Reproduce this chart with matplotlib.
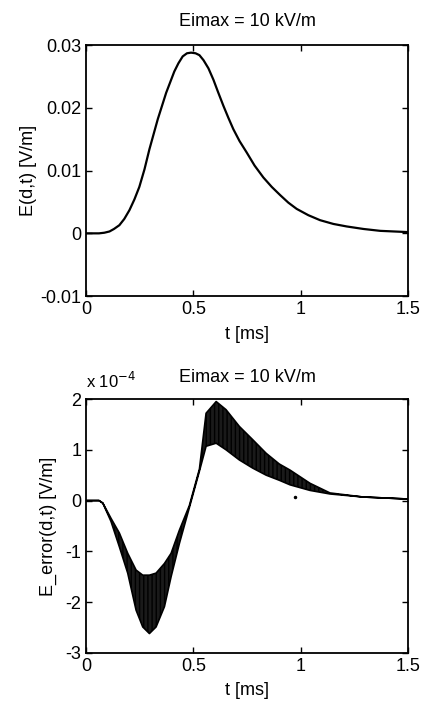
import matplotlib
matplotlib.use("Agg")
import matplotlib.pyplot as plt

plt.rcParams['font.family'] = ['Liberation Sans', 'DejaVu Sans']
plt.rcParams['axes.unicode_minus'] = False

# top panel: E(d,t) [V/m] vs t [ms]
t_top = [0.0, 0.06, 0.085, 0.109, 0.13, 0.155, 0.178, 0.202, 0.225, 0.248,
         0.272, 0.295, 0.334, 0.373, 0.411, 0.430, 0.450, 0.470, 0.489, 0.510,
         0.528, 0.547, 0.570, 0.593, 0.615, 0.640, 0.663, 0.686, 0.715, 0.748,
         0.785, 0.826, 0.865, 0.904, 0.942, 0.981, 1.035, 1.09, 1.152, 1.214,
         1.292, 1.37, 1.5]
e_top = [0.0, 0.0, 0.0001, 0.0003, 0.0007, 0.0013, 0.0023, 0.0037, 0.0054,
         0.0074, 0.0102, 0.0134, 0.0182, 0.0224, 0.0258, 0.0271, 0.0282, 0.0287,
         0.0288, 0.0287, 0.0284, 0.0276, 0.0263, 0.0245, 0.0225, 0.0203, 0.0184,
         0.0166, 0.0147, 0.0129, 0.0108, 0.0089, 0.0074, 0.0061, 0.0049, 0.0039,
         0.0029, 0.0021, 0.0015, 0.0011, 0.0007, 0.0004, 0.0002]

# bottom panel: E_error(d,t) in units of 1e-4 V/m, band edges of the ripple
t_err = [0.0, 0.06, 0.078, 0.116, 0.155, 0.194, 0.233, 0.264, 0.295, 0.326,
         0.365, 0.396, 0.435, 0.481, 0.528, 0.559, 0.606, 0.652, 0.714, 0.776,
         0.839, 0.90, 0.95, 1.043, 1.136, 1.29, 1.5]
err_hi = [0.0, 0.0, -0.05, -0.35, -0.64, -1.04, -1.37, -1.47, -1.47, -1.43,
          -1.24, -1.04, -0.58, -0.1, 0.62, 1.72, 1.95, 1.79, 1.46, 1.2, 0.93,
          0.72, 0.6, 0.34, 0.15, 0.07, 0.03]
err_lo = [0.0, 0.0, -0.05, -0.41, -0.91, -1.43, -2.16, -2.49, -2.62, -2.49,
          -2.09, -1.5, -0.84, -0.14, 0.58, 1.07, 1.13, 1.0, 0.8, 0.64, 0.5,
          0.4, 0.31, 0.2, 0.13, 0.07, 0.03]
stray_t = [0.973]
stray_v = [0.07]

fig = plt.figure(figsize=(4.22, 7.05), dpi=100)
ax1 = fig.add_axes([0.204, 0.580, 0.763, 0.356])
ax2 = fig.add_axes([0.204, 0.074, 0.763, 0.360])

ax1.plot(t_top, e_top, color='black', lw=1.6)
ax1.set_xlim(0, 1.5)
ax1.set_ylim(-0.01, 0.03)
ax1.set_xticks([0, 0.5, 1, 1.5])
ax1.set_xticklabels(['0', '0.5', '1', '1.5'])
ax1.set_yticks([-0.01, 0, 0.01, 0.02, 0.03])
ax1.set_yticklabels(['-0.01', '0', '0.01', '0.02', '0.03'])
ax1.set_ylabel('E(d,t) [V/m]', fontsize=13, labelpad=2)
ax1.set_xlabel('t [ms]', fontsize=13, labelpad=6)
ax1.set_title('Eimax = 10 kV/m', fontsize=13, pad=14)

ax2.fill_between(t_err, err_lo, err_hi, facecolor='0.1', edgecolor='black',
                 hatch='||||', lw=1.2)
ax2.plot(stray_t, stray_v, 'k.', ms=3)
ax2.set_xlim(0, 1.5)
ax2.set_ylim(-3, 2)
ax2.set_xticks([0, 0.5, 1, 1.5])
ax2.set_xticklabels(['0', '0.5', '1', '1.5'])
ax2.set_yticks([-3, -2, -1, 0, 1, 2])
ax2.set_ylabel('E_error(d,t) [V/m]', fontsize=13, labelpad=6)
ax2.set_xlabel('t [ms]', fontsize=13, labelpad=5)
ax2.set_title('Eimax = 10 kV/m', fontsize=13, pad=12)
ax2.text(0.0, 1.03, r'x 10$^{-4}$', transform=ax2.transAxes, fontsize=12,
         ha='left', va='bottom')

for ax in (ax1, ax2):
    ax.tick_params(direction='in', top=True, right=True, length=4,
                   labelsize=13, width=1)
    for s in ax.spines.values():
        s.set_linewidth(1.3)

fig.savefig('out.png', dpi=100)
